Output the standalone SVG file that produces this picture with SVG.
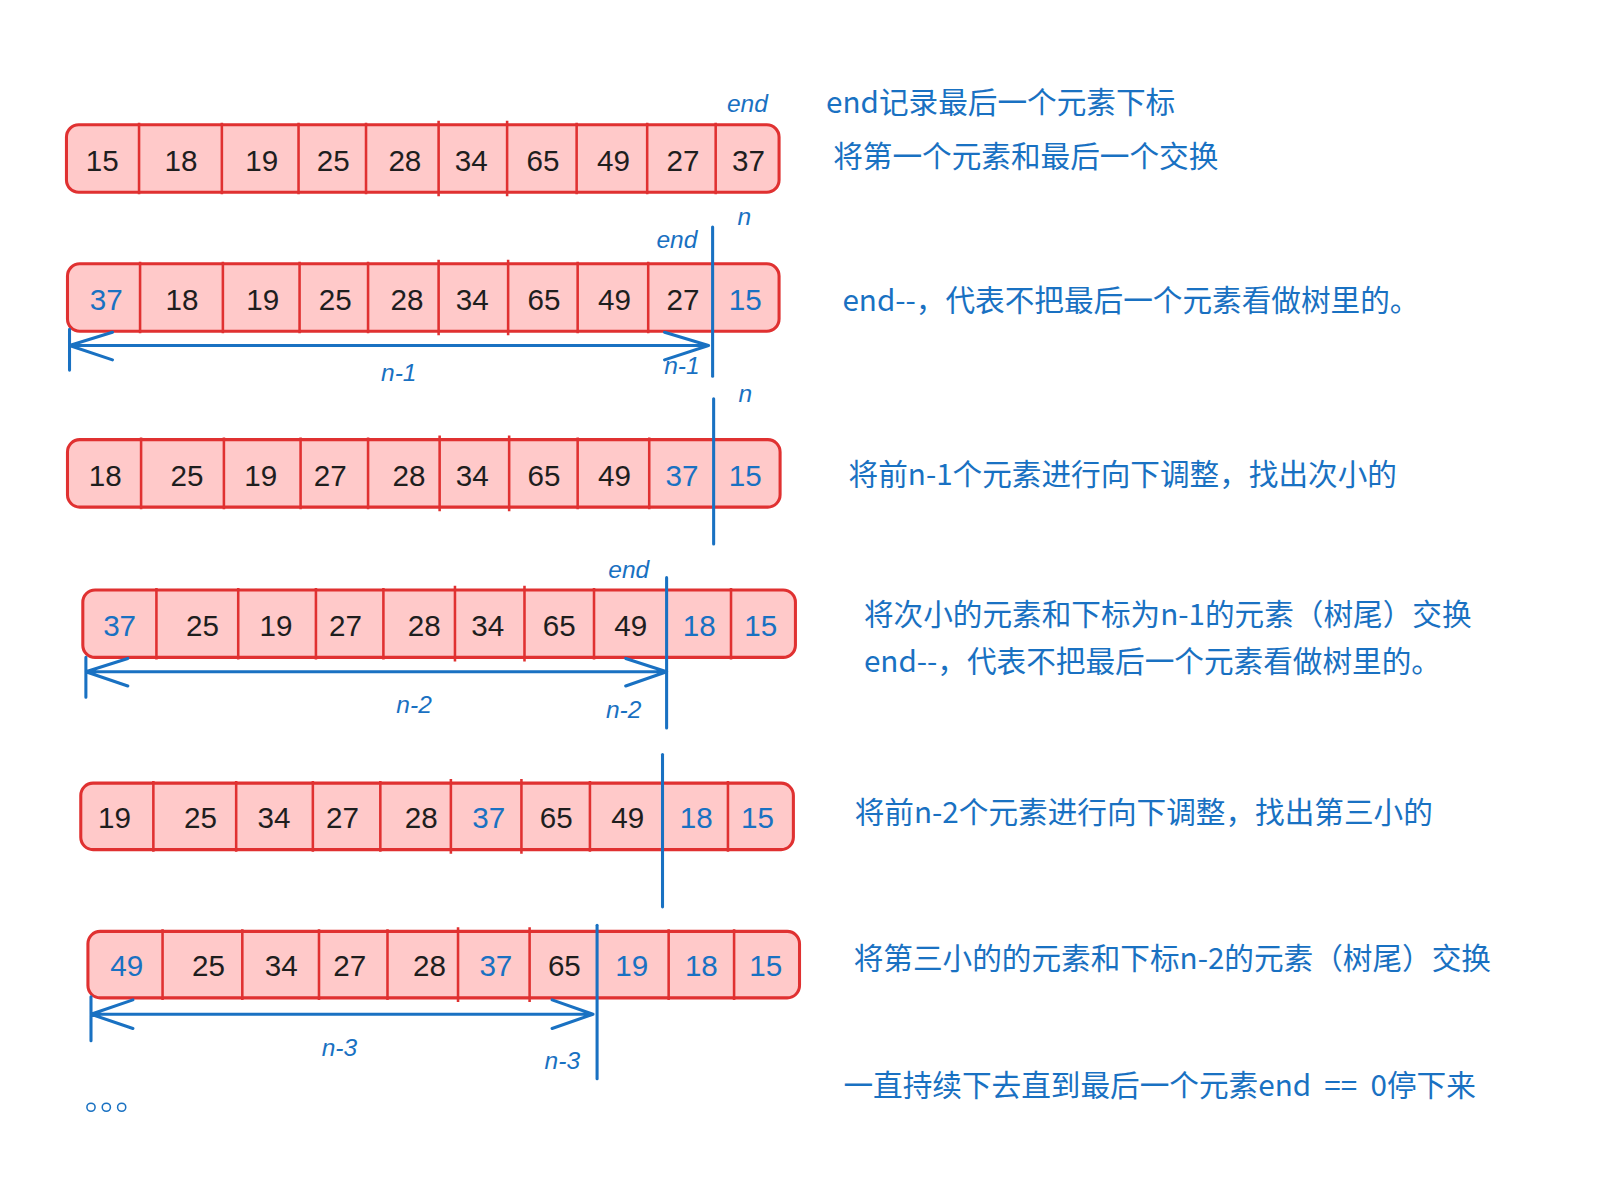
<svg xmlns="http://www.w3.org/2000/svg" width="1600" height="1197" viewBox="0 0 1600 1197">
<style>
.box{fill:#ffc9c9;stroke:#e03131;stroke-width:3}
.div{stroke:#e03131;stroke-width:2.5;fill:none}
.num{font-family:"Liberation Sans","Noto Sans CJK SC",sans-serif;font-size:29px;fill:#1e1e1e;text-anchor:middle}
.b{fill:#1971c2}
.lbl{font-family:"Liberation Sans","Noto Sans CJK SC",sans-serif;font-size:24px;fill:#1971c2;text-anchor:middle;font-style:italic}
.note{font-family:"Noto Sans CJK SC","Liberation Sans",sans-serif;font-size:29px;fill:#1971c2}
.bl{stroke:#1971c2;stroke-width:3;fill:none;stroke-linecap:round;stroke-linejoin:round}
</style>
<rect width="1600" height="1197" fill="#ffffff"/>
<g transform="scale(1.0224)">
<g id="row1">
<rect class="box" x="65" y="122" width="697" height="66" rx="12"/>
<path class="div" d="M136 120V190M217 120V190M292 120V190M358 120V190M429 118V192M496 118V192M564 120V190M633 120V190M700 120V190"/>
<text class="num" y="167"><tspan x="100">15</tspan><tspan x="177">18</tspan><tspan x="256">19</tspan><tspan x="326">25</tspan><tspan x="396">28</tspan><tspan x="461">34</tspan><tspan x="531">65</tspan><tspan x="600">49</tspan><tspan x="668">27</tspan><tspan x="732">37</tspan></text>
<text class="lbl" x="731" y="110">end</text>
</g>

<g id="row2">
<rect class="box" x="66" y="258" width="696" height="66" rx="12"/>
<path class="div" d="M137 256V326M218 256V326M293 256V326M360 256V326M429 254V328M497 254V328M565 256V326M634 256V326"/>
<text class="num" y="303"><tspan class="b" x="104">37</tspan><tspan x="178">18</tspan><tspan x="257">19</tspan><tspan x="328">25</tspan><tspan x="398">28</tspan><tspan x="462">34</tspan><tspan x="532">65</tspan><tspan x="601">49</tspan><tspan x="668">27</tspan><tspan class="b" x="729">15</tspan></text>
<text class="lbl" x="662" y="243">end</text>
<text class="lbl" x="728" y="220">n</text>
</g>

<g id="row3">
<rect class="box" x="66" y="430" width="697" height="66" rx="12"/>
<path class="div" d="M138 428V498M219 428V498M294 428V498M360 428V498M430 426V500M498 426V500M565 428V498M635 428V498"/>
<text class="num" y="475"><tspan x="103">18</tspan><tspan x="183">25</tspan><tspan x="255">19</tspan><tspan x="323">27</tspan><tspan x="400">28</tspan><tspan x="462">34</tspan><tspan x="532">65</tspan><tspan x="601">49</tspan><tspan class="b" x="667">37</tspan><tspan class="b" x="729">15</tspan></text>
<text class="lbl" x="729" y="393">n</text>
</g>

<g id="row4">
<rect class="box" x="81" y="577" width="697" height="66" rx="12"/>
<path class="div" d="M153 575V645M233 575V645M309 575V645M375 575V645M445 573V647M513 573V647M581 575V645M715 575V645"/>
<text class="num" y="622"><tspan class="b" x="117">37</tspan><tspan x="198">25</tspan><tspan x="270">19</tspan><tspan x="338">27</tspan><tspan x="415">28</tspan><tspan x="477">34</tspan><tspan x="547">65</tspan><tspan x="617">49</tspan><tspan class="b" x="684">18</tspan><tspan class="b" x="744">15</tspan></text>
<text class="lbl" x="615" y="565">end</text>
</g>

<g id="row5">
<rect class="box" x="79" y="766" width="697" height="65" rx="12"/>
<path class="div" d="M150 764V833M231 764V833M306 764V833M372 764V833M441 762V835M510 762V835M577 764V833M712 764V833"/>
<text class="num" y="810"><tspan x="112">19</tspan><tspan x="196">25</tspan><tspan x="268">34</tspan><tspan x="335">27</tspan><tspan x="412">28</tspan><tspan class="b" x="478">37</tspan><tspan x="544">65</tspan><tspan x="614">49</tspan><tspan class="b" x="681">18</tspan><tspan class="b" x="741">15</tspan></text>
</g>

<g id="row6">
<rect class="box" x="86" y="911" width="696" height="65" rx="12"/>
<path class="div" d="M159 909V978M237 909V978M312 909V978M379 909V978M448 907V980M518 907V980M654 909V978M718 909V978"/>
<text class="num" y="955"><tspan class="b" x="124">49</tspan><tspan x="204">25</tspan><tspan x="275">34</tspan><tspan x="342">27</tspan><tspan x="420">28</tspan><tspan class="b" x="485">37</tspan><tspan x="552">65</tspan><tspan class="b" x="618">19</tspan><tspan class="b" x="686">18</tspan><tspan class="b" x="749">15</tspan></text>
</g>

<g id="connectors">
<path class="bl" d="M697 222V368"/>
<path class="bl" d="M68 322V362M68 338H693M110 325L68 338L110 352M650 325L693 338L650 352"/>
<text class="lbl" x="390" y="373">n-1</text>
<text class="lbl" x="667" y="366">n-1</text>
<path class="bl" d="M698 390V532"/>
<path class="bl" d="M652 565V712"/>
<path class="bl" d="M84 643V682M84 657H652M125 644L84 657L125 671M612 644L652 657L612 671"/>
<text class="lbl" x="405" y="697">n-2</text>
<text class="lbl" x="610" y="702">n-2</text>
<path class="bl" d="M648 738V887"/>
<path class="bl" d="M584 905V1055"/>
<path class="bl" d="M89 975V1018M89 992H580M130 978L89 992L130 1006M540 978L580 992L540 1006"/>
<text class="lbl" x="332" y="1033">n-3</text>
<text class="lbl" x="550" y="1046">n-3</text>
</g>

<g id="dots">
<circle cx="89" cy="1083" r="4" fill="none" stroke="#1971c2" stroke-width="1.5"/>
<circle cx="104" cy="1083" r="4" fill="none" stroke="#1971c2" stroke-width="1.5"/>
<circle cx="119" cy="1083" r="4" fill="none" stroke="#1971c2" stroke-width="1.5"/>
</g>

<g id="notes">
<text class="note" x="808" y="111">end记录最后一个元素下标</text>
<text class="note" x="815" y="163">将第一个元素和最后一个交换</text>
<text class="note" x="824" y="304">end--，代表不把最后一个元素看做树里的。</text>
<text class="note" x="830" y="474">将前n-1个元素进行向下调整，找出次小的</text>
<text class="note" x="845" y="611">将次小的元素和下标为n-1的元素（树尾）交换</text>
<text class="note" x="845" y="657">end--，代表不把最后一个元素看做树里的。</text>
<text class="note" x="836" y="805">将前n-2个元素进行向下调整，找出第三小的</text>
<text class="note" x="835" y="948">将第三小的的元素和下标n-2的元素（树尾）交换</text>
<text class="note" x="825" y="1072" xml:space="preserve">一直持续下去直到最后一个元素end  ==  0停下来</text>
</g>
</g>
</svg>
